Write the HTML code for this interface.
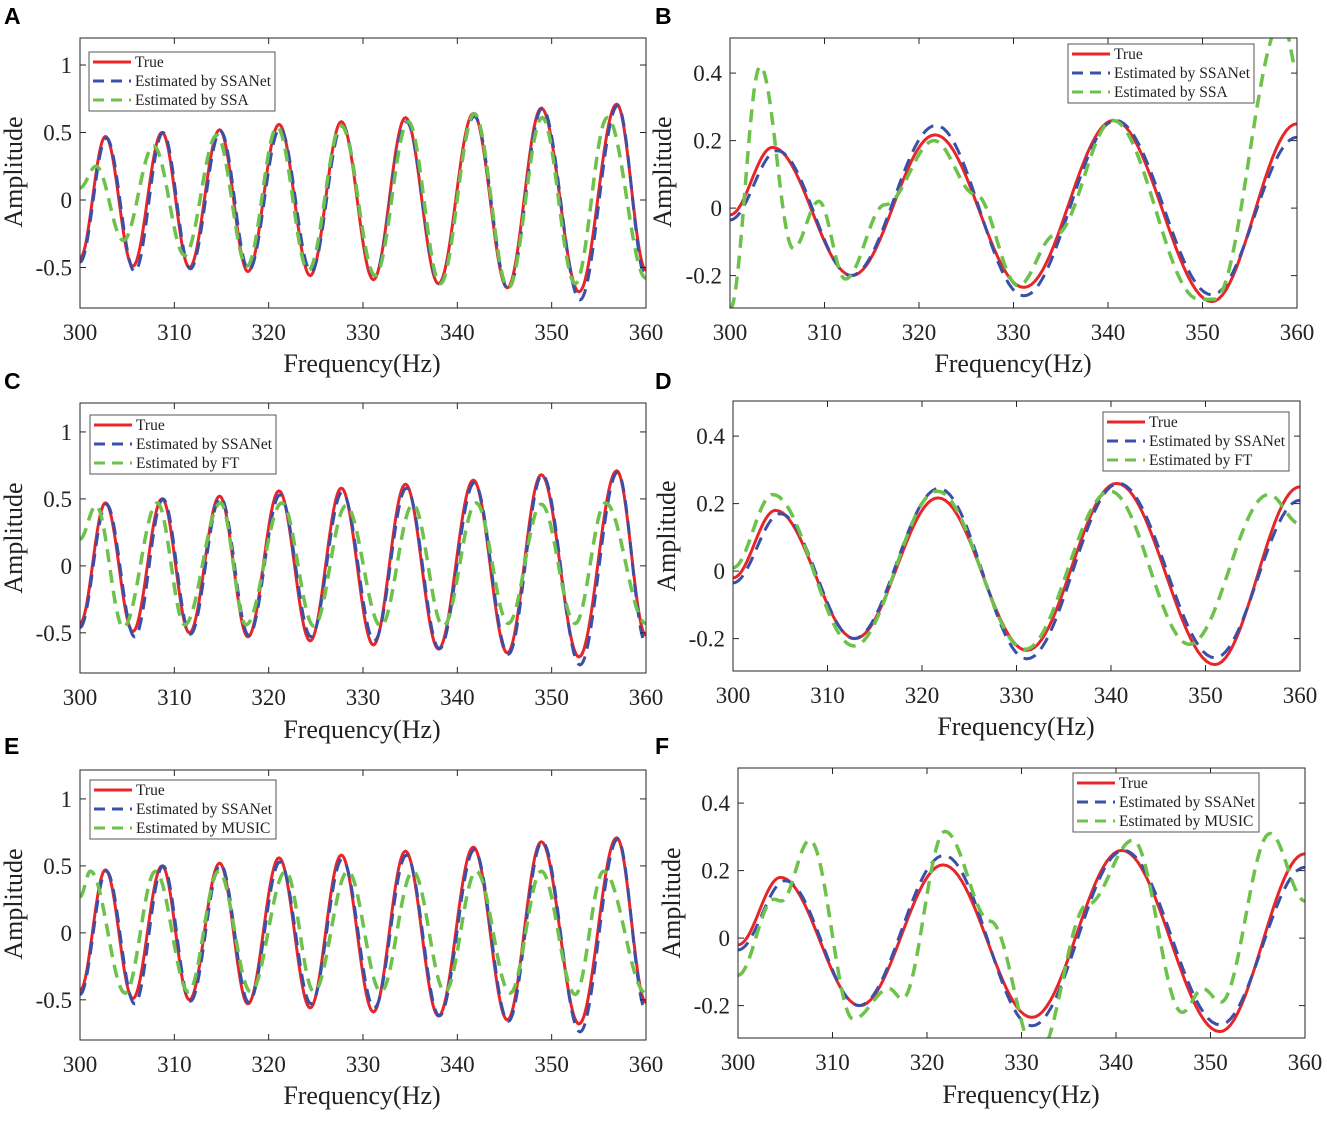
<!DOCTYPE html>
<html><head><meta charset="utf-8"><style>
body{margin:0;background:#fff;}
svg{display:block;font-family:"Liberation Serif",serif;}
.lbl{font-family:"Liberation Sans",sans-serif;font-weight:bold;font-size:23px;}
</style></head><body>
<svg id="fig" width="1327" height="1140" viewBox="0 0 1327 1140" xmlns="http://www.w3.org/2000/svg"></svg>
<script>
// ---- data: extrema keypoints (Hz, amplitude) ----
const xTicks = [300,310,320,330,340,350,360];
const leftYTicks = [-0.5,0,0.5,1];
const rightYTicks = [-0.2,0,0.2,0.4];
const leftYTickLabels = ["-0.5","0","0.5","1"];
const rightYTickLabels = ["-0.2","0","0.2","0.4"];

const leftTrueHz  = [300,302.7,305.6,308.7,311.6,314.8,317.8,321.1,324.4,327.7,331.1,334.5,338,341.7,345.3,348.9,352.9,356.9,360];
const leftTrueAmp = [-0.43,0.47,-0.49,0.50,-0.50,0.52,-0.53,0.56,-0.56,0.58,-0.59,0.61,-0.62,0.64,-0.65,0.68,-0.68,0.71,-0.52];
const leftNetHz   = [300,302.8,305.8,308.8,311.7,314.9,317.9,321.2,324.5,327.8,331.2,334.6,338.1,341.8,345.4,349.0,353.0,357.0,360];
const leftNetAmp  = [-0.46,0.46,-0.53,0.50,-0.51,0.51,-0.52,0.53,-0.53,0.55,-0.56,0.58,-0.62,0.62,-0.66,0.68,-0.74,0.70,-0.58];
const ssaHz  = [300,301.7,304.6,307.8,311.1,314.5,317.7,320.9,324.2,327.7,331.3,334.8,338.2,341.8,345.4,349.0,352.5,355.9,360];
const ssaAmp = [0.09,0.25,-0.30,0.40,-0.41,0.48,-0.49,0.54,-0.52,0.55,-0.56,0.58,-0.62,0.64,-0.65,0.61,-0.62,0.61,-0.58];
const ftHz   = [300,301.7,304.6,308.2,311.1,314.9,317.6,321.4,324.8,328.2,331.9,335.3,338.5,342.0,345.4,348.9,352.5,355.7,360];
const ftAmp  = [0.20,0.45,-0.46,0.47,-0.44,0.47,-0.44,0.47,-0.45,0.45,-0.45,0.46,-0.45,0.47,-0.43,0.46,-0.43,0.47,-0.43];
const musicHz  = [300,301.1,304.8,308.0,311.5,314.7,318.1,321.8,324.8,328.4,331.9,335.3,338.7,342.0,345.6,348.9,352.5,355.5,360];
const musicAmp = [0.27,0.46,-0.45,0.46,-0.44,0.46,-0.44,0.46,-0.44,0.46,-0.44,0.46,-0.44,0.46,-0.45,0.46,-0.46,0.46,-0.45];

const rightTrueHz  = [300,304.5,312.9,321.7,331.1,340.6,351.0,360];
const rightTrueAmp = [-0.02,0.18,-0.20,0.217,-0.235,0.26,-0.277,0.25];
const rightNetHz   = [300,305.0,312.8,321.8,331.1,340.8,351.0,360];
const rightNetAmp  = [-0.035,0.17,-0.20,0.245,-0.26,0.26,-0.257,0.21];
const rightSsaHz  = [300,303.2,306.7,309.4,312.2,316.4,321.6,326.0,330.5,334.4,340.5,349.6,351.3,358.5,360];
const rightSsaAmp = [-0.30,0.42,-0.12,0.02,-0.21,0.01,0.20,0.04,-0.23,-0.08,0.26,-0.27,-0.27,0.56,0.41];
const rightFtHz  = [300,304.2,312.8,321.6,330.9,339.9,348.3,356.7,360];
const rightFtAmp = [0.01,0.227,-0.222,0.237,-0.232,0.237,-0.217,0.227,0.14];
const rightMusicHz  = [300,303.8,304.6,307.6,312.2,316.0,317.4,321.9,326.7,331.7,337.0,341.8,347.0,349.2,351.1,356.3,360];
const rightMusicAmp = [-0.11,0.115,0.11,0.29,-0.24,-0.15,-0.18,0.316,0.05,-0.35,0.10,0.29,-0.22,-0.15,-0.19,0.31,0.11];

const NS = "http://www.w3.org/2000/svg";
const svg = document.getElementById("fig");
function mk(tag, attrs, parent){
  const e = document.createElementNS(NS, tag);
  for (const k in attrs) e.setAttribute(k, attrs[k]);
  (parent||svg).appendChild(e);
  return e;
}

const panels = [
  {id:"a",letter:"A",lx:4,ly:24,x0:80,x1:646,y0:38,y1:308,vMin:-0.8,vMax:1.2,ticks:leftYTicks,tl:leftYTickLabels,yt:[14,172],xt:[362,372],
   leg:[89,52],third:"Estimated by SSA",series:[[leftTrueHz,leftTrueAmp],[leftNetHz,leftNetAmp],[ssaHz,ssaAmp]]},
  {id:"b",letter:"B",lx:655,ly:24,x0:730,x1:1297,y0:38,y1:308,vMin:-0.296,vMax:0.504,ticks:rightYTicks,tl:rightYTickLabels,yt:[663,172],xt:[1013,372],
   leg:[1068,44],third:"Estimated by SSA",series:[[rightTrueHz,rightTrueAmp],[rightNetHz,rightNetAmp],[rightSsaHz,rightSsaAmp]]},
  {id:"c",letter:"C",lx:4,ly:389,x0:80,x1:646,y0:403,y1:673,vMin:-0.8,vMax:1.216,ticks:leftYTicks,tl:leftYTickLabels,yt:[14,538],xt:[362,738],
   leg:[90,415],third:"Estimated by FT",series:[[leftTrueHz,leftTrueAmp],[leftNetHz,leftNetAmp],[ftHz,ftAmp]]},
  {id:"d",letter:"D",lx:655,ly:389,x0:733,x1:1300,y0:401,y1:671,vMin:-0.296,vMax:0.504,ticks:rightYTicks,tl:rightYTickLabels,yt:[667,536],xt:[1016,735],
   leg:[1103,412],third:"Estimated by FT",series:[[rightTrueHz,rightTrueAmp],[rightNetHz,rightNetAmp],[rightFtHz,rightFtAmp]]},
  {id:"e",letter:"E",lx:4,ly:754,x0:80,x1:646,y0:770,y1:1040,vMin:-0.8,vMax:1.216,ticks:leftYTicks,tl:leftYTickLabels,yt:[14,904],xt:[362,1104],
   leg:[90,780],third:"Estimated by MUSIC",series:[[leftTrueHz,leftTrueAmp],[leftNetHz,leftNetAmp],[musicHz,musicAmp]]},
  {id:"f",letter:"F",lx:655,ly:754,x0:738,x1:1305,y0:768,y1:1038,vMin:-0.296,vMax:0.504,ticks:rightYTicks,tl:rightYTickLabels,yt:[672,903],xt:[1021,1103],
   leg:[1073,773],third:"Estimated by MUSIC",series:[[rightTrueHz,rightTrueAmp],[rightNetHz,rightNetAmp],[rightMusicHz,rightMusicAmp]]}
];
const colors = ["#e8262a","#3a4fa8","#6cc24a"];
const dashes = [null,"13,8","13,8"];
const widths = [3,3,3.5];
const seriesNames = ["true-curve","ssanet-curve","baseline-curve"];

function curvePath(hz, amp, xf, yf){
  let d = "M"+xf(hz[0]).toFixed(2)+","+yf(amp[0]).toFixed(2);
  for (let i=0;i<hz.length-1;i++){
    const n=24;
    for (let s=1;s<=n;s++){
      const t=s/n, w=(1-Math.cos(Math.PI*t))/2;
      const x=hz[i]+(hz[i+1]-hz[i])*t, y=amp[i]+(amp[i+1]-amp[i])*w;
      d+=" L"+xf(x).toFixed(2)+","+yf(y).toFixed(2);
    }
  }
  return d;
}

const defs = mk("defs",{});
panels.forEach(p=>{
  const g = mk("g",{});
  
  
  const xf = v => p.x0 + (v-300)/60*(p.x1-p.x0);
  const yf = v => p.y1 - (v-p.vMin)/(p.vMax-p.vMin)*(p.y1-p.y0);
  const cp = mk("clipPath",{id:"clip-"+p.id},defs);
  mk("rect",{x:p.x0,y:p.y0,width:p.x1-p.x0,height:p.y1-p.y0},cp);

  const letter = mk("text",{x:p.lx,y:p.ly,"class":"lbl"},g);
  letter.textContent = p.letter;
  
  

  p.series.forEach((s,i)=>{
    const path = mk("path",{d:curvePath(s[0],s[1],xf,yf),fill:"none",stroke:colors[i],"stroke-width":widths[i],"clip-path":"url(#clip-"+p.id+")"},g);
    if (dashes[i]) path.setAttribute("stroke-dasharray",dashes[i]);
    
    
  });

  const fr = mk("rect",{x:p.x0,y:p.y0,width:p.x1-p.x0,height:p.y1-p.y0,fill:"none",stroke:"#262626","stroke-width":1},g);
  
  

  xTicks.forEach(v=>{
    const x=xf(v);
    mk("line",{x1:x,y1:p.y1,x2:x,y2:p.y1-6,stroke:"#262626"},g);
    mk("line",{x1:x,y1:p.y0,x2:x,y2:p.y0+6,stroke:"#262626"},g);
    const t=mk("text",{x:x,y:p.y1+32,"text-anchor":"middle","font-size":"23",fill:"#222"},g);
    t.textContent=String(v);
    
    
  });
  p.ticks.forEach((v,i)=>{
    const y=yf(v);
    mk("line",{x1:p.x0,y1:y,x2:p.x0+6,y2:y,stroke:"#262626"},g);
    mk("line",{x1:p.x1,y1:y,x2:p.x1-6,y2:y,stroke:"#262626"},g);
    const t=mk("text",{x:p.x0-8,y:y+8,"text-anchor":"end","font-size":"23",fill:"#222"},g);
    t.textContent=p.tl[i];
    
    
  });
  const xt=mk("text",{x:p.xt[0],y:p.xt[1],"text-anchor":"middle","font-size":"26",fill:"#222"},g);
  xt.textContent="Frequency(Hz)";
  
  
  const yt=mk("text",{x:0,y:0,"text-anchor":"middle","font-size":"26",fill:"#222",transform:"translate("+(p.yt[0]+8)+","+p.yt[1]+") rotate(-90)"},g);
  yt.textContent="Amplitude";
  
  

  const lg = mk("g",{},g);
  
  
  const [lx,ly]=p.leg;
  mk("rect",{x:lx,y:ly,width:186,height:59,fill:"#fff",stroke:"#555","stroke-width":1},lg);
  const names=["True","Estimated by SSANet",p.third];
  names.forEach((n,i)=>{
    const yy=ly+10+i*19;
    const ln=mk("line",{x1:lx+4,y1:yy,x2:lx+42,y2:yy,stroke:colors[i],"stroke-width":3},lg);
    if (dashes[i]) ln.setAttribute("stroke-dasharray","11,7");
    const t=mk("text",{x:lx+46,y:yy+5,"font-size":"15.5",fill:"#222"},lg);
    t.textContent=n;
    
    
  });
});
</script>
</body></html>
